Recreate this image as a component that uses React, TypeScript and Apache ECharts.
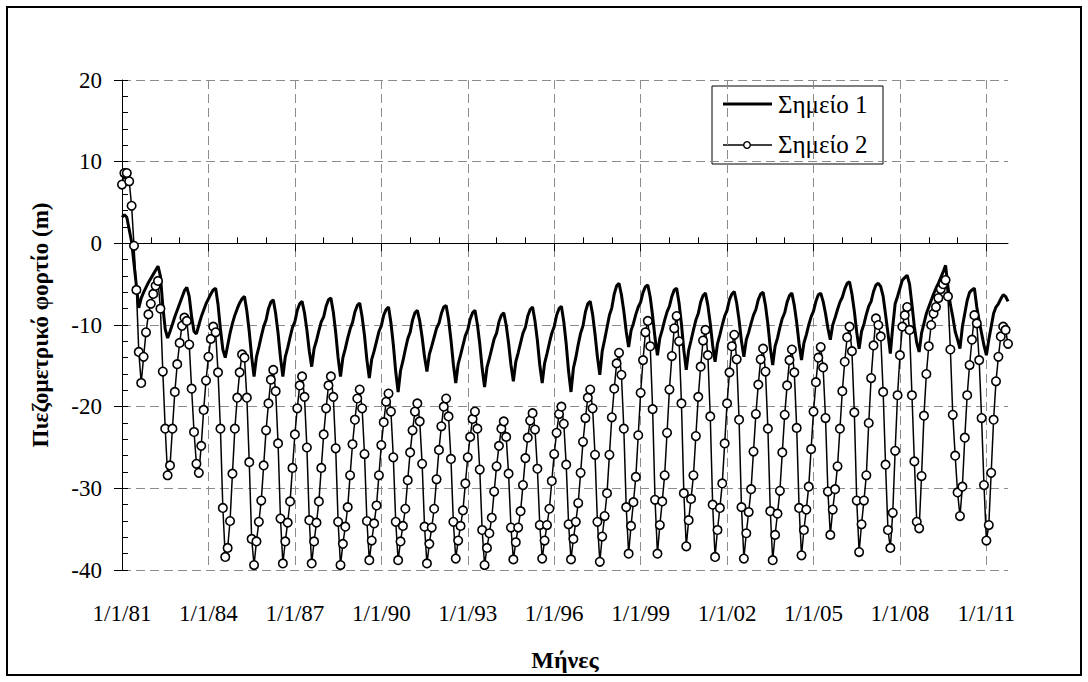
import React, { useEffect, useRef } from "react";
import * as echarts from "echarts";

// Monthly observations, January 1981 onwards
const START_YEAR = 1981;

// Σημείο 1 – piezometric head (m), one row per year
const point1: number[] = [
  3.2, 3.5, 3.2, 1.7, 0.2, -2.5, -5.2, -7.9, -6.7, -6.0, -5.4, -4.8,
  -4.3, -3.8, -3.3, -2.8, -4.0, -7.7, -10.5, -11.6, -10.8, -9.9, -9.0, -8.2,
  -7.4, -6.6, -5.8, -5.4, -6.5, -9.0, -10.8, -11.1, -10.0, -9.0, -8.2, -7.4,
  -6.8, -6.2, -5.7, -5.5, -7.5, -10.5, -13.0, -14.0, -12.5, -11.0, -9.8, -8.8,
  -8.0, -7.3, -6.8, -6.5, -8.3, -10.8, -13.9, -16.3, -13.9, -12.7, -11.4, -10.2,
  -9.4, -8.0, -7.2, -6.9, -8.6, -11.0, -14.0, -16.3, -13.9, -12.8, -11.5, -10.3,
  -9.6, -8.2, -7.4, -7.1, -8.5, -10.6, -13.2, -15.1, -12.9, -11.9, -10.7, -9.6,
  -9.0, -7.7, -6.9, -6.7, -8.4, -10.9, -14.0, -16.3, -14.0, -12.9, -11.6, -10.5,
  -9.7, -8.4, -7.6, -7.3, -9.0, -11.3, -14.3, -16.5, -14.2, -13.2, -12.0, -10.8,
  -10.1, -8.8, -8.1, -7.8, -9.7, -12.4, -15.7, -18.2, -15.6, -14.4, -13.0, -11.7,
  -10.9, -9.4, -8.5, -8.2, -9.5, -11.5, -13.9, -15.7, -13.6, -12.6, -11.5, -10.4,
  -9.8, -8.6, -7.8, -7.6, -9.3, -11.8, -14.8, -17.1, -14.8, -13.7, -12.5, -11.3,
  -10.6, -9.3, -8.5, -8.2, -9.9, -12.3, -15.3, -17.6, -15.2, -14.1, -12.9, -11.7,
  -11.0, -9.6, -8.8, -8.5, -10.0, -12.2, -14.9, -16.9, -14.5, -13.4, -12.2, -11.0,
  -10.3, -8.9, -8.1, -7.8, -9.5, -11.9, -14.9, -17.1, -14.7, -13.5, -12.2, -11.0,
  -10.2, -8.8, -8.0, -7.7, -9.6, -12.3, -15.7, -18.2, -15.3, -14.0, -12.4, -11.0,
  -10.1, -8.4, -7.4, -7.1, -8.7, -11.1, -13.9, -16.1, -13.2, -11.8, -10.3, -8.8,
  -7.9, -6.2, -5.2, -4.9, -6.3, -8.3, -10.8, -12.7, -10.7, -9.8, -8.7, -7.8,
  -7.2, -6.0, -5.3, -5.1, -6.6, -8.9, -11.6, -13.7, -11.6, -10.6, -9.4, -8.4,
  -7.7, -6.5, -5.7, -5.5, -7.3, -9.9, -13.1, -15.5, -13.1, -11.9, -10.6, -9.4,
  -8.6, -7.2, -6.4, -6.1, -7.6, -9.8, -12.5, -14.5, -12.3, -11.2, -10.0, -8.9,
  -8.2, -6.9, -6.2, -5.9, -7.3, -9.4, -12.0, -13.9, -11.8, -10.9, -9.8, -8.8,
  -8.1, -6.9, -6.2, -6.0, -7.6, -9.9, -12.8, -14.9, -12.6, -11.6, -10.3, -9.2,
  -8.5, -7.2, -6.4, -6.1, -7.6, -9.7, -12.3, -14.3, -12.2, -11.2, -10.0, -9.0,
  -8.3, -7.1, -6.3, -6.1, -7.1, -8.6, -10.4, -11.8, -10.0, -9.1, -8.1, -7.2,
  -6.6, -5.6, -4.9, -4.7, -6.2, -8.3, -10.9, -12.9, -10.8, -9.9, -8.7, -7.7,
  -7.1, -5.9, -5.1, -4.9, -5.3, -6.5, -8.7, -11.0, -13.5, -10.2, -7.4, -6.5,
  -5.5, -4.5, -4.2, -3.9, -5.0, -7.5, -10.2, -12.2, -13.3, -11.0, -9.8, -8.6,
  -7.8, -7.0, -6.2, -5.5, -4.9, -4.2, -3.5, -2.7, -5.3, -7.5, -9.0, -10.8,
  -11.8, -12.9, -10.2, -8.6, -7.0, -6.0, -5.7, -5.5, -7.8, -9.5, -11.0, -12.5,
  -13.7, -11.8, -10.2, -8.6, -7.8, -7.4, -6.8, -6.3, -6.5, -7.1,
];

// Σημείο 2 – piezometric head (m), one row per year
const point2: number[] = [
  7.2, 8.6, 8.6, 7.6, 4.6, -0.3, -5.7, -13.3, -17.1, -13.9, -10.9, -8.7,
  -7.4, -6.2, -5.2, -4.6, -8.0, -15.7, -22.7, -28.4, -27.2, -22.7, -18.2, -14.8,
  -12.2, -10.1, -9.1, -9.5, -12.4, -17.8, -23.1, -27.0, -28.1, -24.8, -20.4, -16.8,
  -13.9, -11.7, -10.2, -10.9, -15.8, -22.7, -32.4, -38.4, -37.3, -34.0, -28.2, -22.7,
  -18.9, -15.8, -13.6, -14.0, -18.9, -26.8, -36.2, -39.4, -36.5, -34.1, -31.5, -27.2,
  -22.9, -19.6, -16.7, -15.5, -18.1, -24.5, -33.7, -39.2, -36.5, -34.2, -31.6, -27.5,
  -23.4, -20.2, -17.4, -16.3, -18.8, -25.0, -33.9, -39.2, -36.5, -34.2, -31.6, -27.5,
  -23.4, -20.2, -17.4, -16.3, -18.8, -25.1, -34.1, -39.4, -36.8, -34.7, -32.3, -28.4,
  -24.6, -21.6, -19.0, -17.9, -20.2, -25.8, -34.0, -38.8, -36.4, -34.3, -32.1, -28.4,
  -24.7, -21.9, -19.4, -18.4, -20.6, -26.2, -34.1, -38.8, -36.5, -34.6, -32.5, -29.0,
  -25.6, -22.9, -20.6, -19.6, -21.8, -27.0, -34.7, -39.2, -36.8, -34.8, -32.5, -28.9,
  -25.3, -22.4, -20.0, -19.0, -21.2, -26.4, -34.1, -38.6, -36.4, -34.6, -32.7, -29.4,
  -26.2, -23.7, -21.5, -20.6, -22.7, -27.7, -35.1, -39.4, -37.3, -35.5, -33.6, -30.4,
  -27.3, -24.8, -22.7, -21.8, -23.7, -28.2, -34.8, -38.7, -36.6, -34.8, -32.8, -29.6,
  -26.3, -23.8, -21.7, -20.8, -22.8, -27.6, -34.5, -38.6, -36.4, -34.5, -32.5, -29.1,
  -25.8, -23.2, -20.9, -20.0, -22.1, -27.1, -34.4, -38.7, -36.2, -34.1, -31.8, -28.1,
  -24.3, -21.4, -18.9, -17.9, -20.2, -25.9, -34.1, -39.0, -35.9, -33.4, -30.6, -25.9,
  -21.3, -17.8, -14.7, -13.4, -16.1, -22.7, -32.3, -38.0, -34.6, -31.7, -28.6, -23.5,
  -18.3, -14.3, -10.9, -9.5, -12.6, -20.3, -31.4, -38.0, -34.5, -31.6, -28.4, -23.2,
  -17.9, -13.8, -10.4, -8.9, -12.0, -19.6, -30.6, -37.1, -33.9, -31.3, -28.4, -23.6,
  -18.8, -15.1, -11.9, -10.6, -13.7, -21.2, -32.0, -38.4, -35.1, -32.4, -29.4, -24.5,
  -19.6, -15.8, -12.6, -11.2, -14.2, -21.6, -32.3, -38.6, -35.5, -32.9, -30.1, -25.5,
  -20.9, -17.3, -14.2, -12.9, -15.7, -22.7, -32.8, -38.8, -35.7, -33.1, -30.3, -25.6,
  -21.0, -17.4, -14.3, -13.0, -15.8, -22.6, -32.4, -38.2, -35.1, -32.6, -29.8, -25.2,
  -20.6, -17.0, -14.0, -12.7, -15.2, -21.4, -30.4, -35.7, -32.6, -30.1, -27.3, -22.7,
  -18.1, -14.5, -11.5, -10.2, -13.2, -20.7, -31.5, -37.8, -34.4, -31.5, -28.4, -22.0,
  -16.5, -12.5, -9.2, -10.0, -11.4, -18.2, -27.1, -35.1, -37.3, -33.0, -25.4, -18.6,
  -13.7, -10.2, -8.8, -7.8, -10.6, -18.6, -26.7, -34.1, -34.9, -28.5, -21.1, -16.0,
  -12.6, -10.0, -8.6, -7.8, -6.7, -5.6, -5.0, -4.5, -6.5, -13.0, -21.0, -26.0,
  -30.5, -33.4, -29.8, -23.8, -18.6, -14.9, -11.8, -8.8, -9.8, -14.3, -21.4, -29.6,
  -36.4, -34.5, -28.1, -21.6, -16.9, -13.9, -11.4, -10.2, -10.6, -12.3,
];

// Month categories, formatted M/1/YY
const months: string[] = point1.map((_, i) => {
  const year = START_YEAR + Math.floor(i / 12);
  const month = (i % 12) + 1;
  return `${month}/1/${String(year % 100).padStart(2, "0")}`;
});

const yTicks = { min: -40, max: 20, major: 10, minor: 2 };
const seriesNames = ["Σημείο 1", "Σημείο 2"];

const FONT = "'Liberation Serif', 'Times New Roman', 'DejaVu Serif', serif";
const GRID_DASH = { color: "#8c8c8c", width: 1, type: [9, 5] as number[] };

export default function App() {
  const ref = useRef<HTMLDivElement>(null);

  useEffect(() => {
    if (!ref.current) return;
    const chart = echarts.init(ref.current, undefined, { renderer: "svg" });

    const majorX = (i: number) => i % 36 === 0;
    const yearX = (i: number) => i % 12 === 0 && i % 36 !== 0;

    const legendText = (text: string, y: number) => ({
      type: "text",
      x: 66,
      y,
      style: {
        text,
        fontFamily: FONT,
        fontSize: 25,
        fill: "#000",
        verticalAlign: "middle",
      },
    });

    chart.setOption({
      animation: false,
      backgroundColor: "#fff",
      textStyle: { fontFamily: FONT },
      grid: { left: 122, right: 80, top: 80, bottom: 112, containLabel: false },
      xAxis: [
        {
          type: "category",
          data: months,
          boundaryGap: false,
          position: "bottom",
          axisLine: { lineStyle: { color: "#000", width: 1 } },
          axisTick: { interval: majorX, length: 8, lineStyle: { color: "#000" } },
          axisLabel: {
            interval: majorX,
            fontFamily: FONT,
            fontSize: 23,
            color: "#000",
            margin: 32,
          },
          splitLine: { show: true, interval: (i: number) => majorX(i) && i > 0, lineStyle: GRID_DASH },
          name: "Μήνες",
          nameLocation: "middle",
          nameGap: 78,
          nameTextStyle: { fontFamily: FONT, fontSize: 24, fontWeight: "bold", color: "#000" },
        },
        {
          type: "category",
          data: months,
          boundaryGap: false,
          position: "bottom",
          axisLine: { show: false },
          axisTick: { interval: yearX, inside: true, length: 6, lineStyle: { color: "#000" } },
          axisLabel: { show: false },
          splitLine: { show: false },
        },
      ],
      yAxis: [
        {
          type: "value",
          min: yTicks.min,
          max: yTicks.max,
          interval: yTicks.major,
          axisLine: { show: true, lineStyle: { color: "#000", width: 1 } },
          axisTick: { show: true, length: 8, lineStyle: { color: "#000" } },
          axisLabel: { fontFamily: FONT, fontSize: 23, color: "#000", margin: 20 },
          splitLine: { show: true, lineStyle: GRID_DASH },
          name: "Πιεζομετρικό φορτίο (m)",
          nameLocation: "middle",
          nameGap: 70,
          nameTextStyle: { fontFamily: FONT, fontSize: 23, fontWeight: "bold", color: "#000" },
        },
        {
          type: "value",
          min: yTicks.min,
          max: yTicks.max,
          interval: yTicks.minor,
          position: "left",
          axisLine: { show: false },
          axisTick: { show: true, inside: true, length: 6, lineStyle: { color: "#000" } },
          axisLabel: { show: false },
          splitLine: { show: false },
        },
      ],
      series: [
        {
          name: seriesNames[0],
          type: "line",
          data: point1,
          symbol: "none",
          lineStyle: { color: "#000", width: 3 },
          z: 2,
        },
        {
          name: seriesNames[1],
          type: "line",
          data: point2,
          symbol: "circle",
          symbolSize: 8.5,
          showAllSymbol: true,
          itemStyle: { color: "#fff", borderColor: "#000", borderWidth: 1.6 },
          lineStyle: { color: "#000", width: 1.5 },
          z: 3,
        },
      ],
      graphic: [
        {
          type: "rect",
          shape: { x: 7, y: 7, width: 1074, height: 668 },
          style: { fill: "none", stroke: "#000", lineWidth: 2 },
          silent: true,
        },
        {
          type: "group",
          x: 712,
          y: 86,
          children: [
            {
              type: "rect",
              shape: { x: 0, y: 0, width: 171, height: 78 },
              style: { fill: "#fff", stroke: "#000", lineWidth: 1 },
            },
            {
              type: "line",
              shape: { x1: 11, y1: 18, x2: 60, y2: 18 },
              style: { stroke: "#000", lineWidth: 3 },
            },
            legendText(seriesNames[0], 18),
            {
              type: "line",
              shape: { x1: 11, y1: 59, x2: 60, y2: 59 },
              style: { stroke: "#000", lineWidth: 1.5 },
            },
            {
              type: "circle",
              shape: { cx: 35, cy: 59, r: 3.3 },
              style: { fill: "#fff", stroke: "#000", lineWidth: 1.4 },
            },
            legendText(seriesNames[1], 58),
          ],
        },
      ],
    });

    return () => chart.dispose();
  }, []);

  return (
    <div
      ref={ref}
      style={{ position: "fixed", left: 0, top: 0, width: 1088, height: 682, background: "#fff" }}
    />
  );
}
